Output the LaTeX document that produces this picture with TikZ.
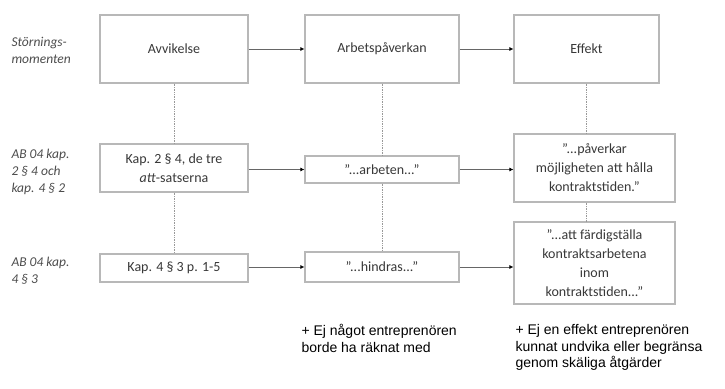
\documentclass[tikz,border=0pt]{standalone}
\usepackage{fontspec}
\setmainfont{Carlito}
\newfontfamily\arialfont{Liberation Sans}
\usetikzlibrary{arrows.meta}

\begin{document}
\begin{tikzpicture}[x=1pt,y=-1pt,
    box/.style={draw=black!28,line width=1.2pt,text=black!78,align=center,
      inner sep=2pt,font=\fontsize{14}{19}\selectfont},
    rowlabel/.style={anchor=west,align=left,text=black!70,
      font=\fontsize{13.5}{17}\selectfont\itshape},
    note/.style={anchor=north west,align=left,text=black,
      font=\arialfont\fontsize{14}{16.5}\selectfont},
    flow/.style={draw=black!60,line width=0.7pt,-{Latex[length=4pt,width=4pt,black]}},
    link/.style={draw=black!40,line width=0.7pt,densely dotted}]
  \useasboundingbox (0,0) rectangle (725,388);

  % rubriker till vänster
  \node[rowlabel] (lstor) at (8,50) {St\"ornings-\\momenten};
  \node[rowlabel] (lkap2) at (8,172) {AB 04 kap.\\2 \S\ 4 och\\kap. 4 \S\ 2};
  \node[rowlabel] (lkap4) at (8,271) {AB 04 kap.\\4 \S\ 3};

  % översta raden
  \node[box,minimum width=148,minimum height=68] (avv) at (174,49) {Avvikelse};
  \node[box,minimum width=154,minimum height=68] (arb) at (382,49) {Arbetsp\aa verkan};
  \node[box,minimum width=145,minimum height=68] (eff) at (586.5,49) {Effekt};

  % AB 04 kap. 2 och 4
  \node[box,minimum width=148,minimum height=48] (kap2) at (174,168)
    {Kap. 2 \S\ 4, de tre\\\textit{att}-satserna};
  \node[box,minimum width=154,minimum height=27] (arbeten) at (382,169.5)
    {\char"201D...arbeten...\char"201D};
  \node[box,minimum width=161,minimum height=68] (paverkar) at (594.5,168)
    {\char"201D...p\aa verkar\\m\"ojligheten att h\aa lla\\kontraktstiden.\char"201D};

  % AB 04 kap. 4 § 3
  \node[box,minimum width=148,minimum height=28] (kap4) at (174,268) {Kap. 4 \S\ 3 p. 1-5};
  \node[box,minimum width=154,minimum height=30] (hindras) at (382,267)
    {\char"201D...hindras...\char"201D};
  \node[box,minimum width=161,minimum height=82] (fardig) at (594.5,263)
    {\char"201D...att f\"ardigst\"alla\\kontraktsarbetena\\inom\\kontraktstiden...\char"201D};

  % pilar
  \draw[flow] (avv) -- (arb);
  \draw[flow] (arb) -- (eff);
  \draw[flow] (kap2.east |- arbeten) -- (arbeten.west);
  \draw[flow] (arbeten.east) -- (arbeten.east -| paverkar.west);
  \draw[flow] (kap4.east |- hindras) -- (hindras.west);
  \draw[flow] (hindras.east) -- (hindras.east -| fardig.west);

  % prickade linjer
  \draw[link] (avv) -- (kap2);
  \draw[link] (kap2) -- (kap4);
  \draw[link] (arb) -- (arbeten);
  \draw[link] (arbeten) -- (hindras);
  \draw[link] (eff.south) -- (eff |- paverkar.north);
  \draw[link] (eff |- paverkar.south) -- (eff |- fardig.north);

  % villkor under
  \node[note] (nraknat) at (298,321) {+ Ej n\aa got entrepren\"oren\\borde ha r\"aknat med};
  \node[note] (nundvika) at (512,321)
    {+ Ej en effekt entrepren\"oren\\kunnat undvika eller begr\"ansa\\genom sk\"aliga \aa tg\"arder};
\end{tikzpicture}
\end{document}
